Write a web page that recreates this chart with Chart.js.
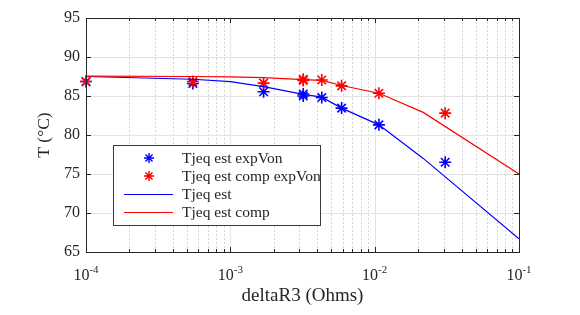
<!DOCTYPE html>
<html>
<head>
<meta charset="utf-8">
<script src="https://cdn.jsdelivr.net/npm/chart.js"></script>
<style>
  body { margin: 0; background: #fff; }
  canvas { display: block; }
</style>
</head>
<body>
<canvas id="chart" width="580" height="315"></canvas>
<script>
// measured points (deltaR3 in Ohms, T in degC)
const expX = [1e-4, 5.5e-4, 1.7e-3, 3.2e-3, 3.2e-3, 4.3e-3, 5.9e-3, 1.07e-2, 3.08e-2];
const estExpVon = [86.85, 86.6, 85.55, 85.25, 85.0, 84.8, 83.45, 81.3, 76.5];
const compExpVon = [86.85, 86.85, 86.65, 87.15, 87.0, 87.05, 86.3, 85.35, 82.8];

// estimated curves
const lineX = [1e-4, 5.5e-4, 1e-3, 1.7e-3, 3.2e-3, 4.3e-3, 5.9e-3, 1.07e-2, 2.17e-2, 1e-1];
const estLine = [87.5, 87.15, 86.85, 86.2, 85.2, 84.85, 83.45, 81.3, 77.0, 66.7];
const compLine = [87.55, 87.5, 87.45, 87.35, 87.1, 87.0, 86.35, 85.35, 82.9, 75.0];

const xDecades = [1e-4, 1e-3, 1e-2, 1e-1];
const xDecadeExp = ['-4', '-3', '-2', '-1'];
const yTicks = [65, 70, 75, 80, 85, 90, 95];

const BLUE = '#0000ff';
const RED = '#ff0000';
const AXIS = '#262626';
const SERIF = '"Liberation Serif", "Times New Roman", serif';

const toPoints = (xs, ys) => xs.map((x, i) => ({ x: x, y: ys[i] }));

// minor positions 2..9 x 10^n between the decades
const minorX = [];
for (let d = 0; d < xDecades.length - 1; d++) {
  for (let k = 2; k <= 9; k++) minorX.push(k * xDecades[d]);
}

const legendItems = [
  { label: 'Tjeq est expVon', color: BLUE, star: true },
  { label: 'Tjeq est comp expVon', color: RED, star: true },
  { label: 'Tjeq est', color: BLUE, star: false },
  { label: 'Tjeq est comp', color: RED, star: false }
];

const framePlugin = {
  id: 'frame',
  beforeDatasetsDraw(chart) {
    const { ctx, chartArea: a, scales } = chart;
    const xs = scales.x, ys = scales.y;
    ctx.save();
    ctx.lineWidth = 1;
    // minor dotted x grid
    ctx.strokeStyle = '#d6d6d6';
    ctx.setLineDash([2, 2]);
    minorX.forEach(v => {
      const px = Math.round(xs.getPixelForValue(v)) + 0.5;
      ctx.beginPath(); ctx.moveTo(px, a.top); ctx.lineTo(px, a.bottom); ctx.stroke();
    });
    // major solid grid
    ctx.setLineDash([]);
    ctx.strokeStyle = '#e3e3e3';
    xDecades.forEach(v => {
      const px = Math.round(xs.getPixelForValue(v)) + 0.5;
      ctx.beginPath(); ctx.moveTo(px, a.top); ctx.lineTo(px, a.bottom); ctx.stroke();
    });
    yTicks.forEach(v => {
      const py = Math.round(ys.getPixelForValue(v)) + 0.5;
      ctx.beginPath(); ctx.moveTo(a.left, py); ctx.lineTo(a.right, py); ctx.stroke();
    });
    ctx.restore();
  },
  afterDatasetsDraw(chart) {
    const { ctx, chartArea: a, scales } = chart;
    const xs = scales.x, ys = scales.y;
    ctx.save();
    ctx.strokeStyle = AXIS;
    ctx.lineWidth = 1;
    // inward ticks on all four sides
    const tick = (x1, y1, x2, y2) => { ctx.beginPath(); ctx.moveTo(x1, y1); ctx.lineTo(x2, y2); ctx.stroke(); };
    minorX.forEach(v => {
      const px = Math.round(xs.getPixelForValue(v)) + 0.5;
      tick(px, a.bottom, px, a.bottom - 3);
      tick(px, a.top, px, a.top + 3);
    });
    xDecades.forEach(v => {
      const px = Math.round(xs.getPixelForValue(v)) + 0.5;
      tick(px, a.bottom, px, a.bottom - 5);
      tick(px, a.top, px, a.top + 5);
    });
    yTicks.forEach(v => {
      const py = Math.round(ys.getPixelForValue(v)) + 0.5;
      tick(a.left, py, a.left + 5, py);
      tick(a.right, py, a.right - 5, py);
    });
    // box
    ctx.strokeRect(Math.round(a.left) + 0.5, Math.round(a.top) + 0.5,
      Math.round(a.right - a.left), Math.round(a.bottom - a.top));

    // x tick labels 10^n
    ctx.fillStyle = AXIS;
    ctx.textBaseline = 'alphabetic';
    ctx.textAlign = 'left';
    xDecades.forEach((v, i) => {
      const px = xs.getPixelForValue(v);
      ctx.font = '16px ' + SERIF;
      const w1 = ctx.measureText('10').width;
      ctx.font = '11px ' + SERIF;
      const w2 = ctx.measureText(xDecadeExp[i]).width;
      const x0 = px - (w1 + w2) / 2;
      ctx.font = '16px ' + SERIF;
      ctx.fillText('10', x0, a.bottom + 28);
      ctx.font = '11px ' + SERIF;
      ctx.fillText(xDecadeExp[i], x0 + w1, a.bottom + 21);
    });

    // legend
    const lx = 113, ly = 145, lw = 207, lh = 80;
    ctx.fillStyle = '#fff';
    ctx.fillRect(lx, ly, lw, lh);
    ctx.strokeStyle = '#3a3a3a';
    ctx.strokeRect(lx + 0.5, ly + 0.5, lw, lh);
    ctx.font = '15.5px ' + SERIF;
    ctx.textBaseline = 'middle';
    legendItems.forEach((item, i) => {
      const cy = 158 + i * 18;
      ctx.strokeStyle = item.color;
      ctx.fillStyle = item.color;
      if (item.star) {
        ctx.lineWidth = 1.4;
        Chart.helpers.drawPoint(ctx, {
          pointStyle: 'star', radius: 5, rotation: 0, borderWidth: 1.4
        }, 149, cy);
      } else {
        ctx.lineWidth = 1.2;
        ctx.beginPath(); ctx.moveTo(124, cy + 0.5); ctx.lineTo(173, cy + 0.5); ctx.stroke();
      }
      ctx.fillStyle = AXIS;
      ctx.fillText(item.label, 182, cy + 1);
    });
    ctx.restore();
  }
};

const starSet = (label, ys, color, order) => ({
  label: label,
  data: toPoints(expX, ys),
  showLine: false,
  pointStyle: 'star',
  pointRadius: 6,
  pointBorderWidth: 1.6,
  borderColor: color,
  backgroundColor: color,
  clip: false,
  order: order
});

const lineSet = (label, ys, color, order) => ({
  label: label,
  data: toPoints(lineX, ys),
  showLine: true,
  pointRadius: 0,
  borderWidth: 1.2,
  borderColor: color,
  backgroundColor: color,
  tension: 0,
  order: order
});

new Chart(document.getElementById('chart'), {
  type: 'scatter',
  data: {
    datasets: [
      starSet('Tjeq est expVon', estExpVon, BLUE, 3),
      starSet('Tjeq est comp expVon', compExpVon, RED, 2),
      lineSet('Tjeq est', estLine, BLUE, 1),
      lineSet('Tjeq est comp', compLine, RED, 0)
    ]
  },
  options: {
    responsive: false,
    animation: false,
    layout: { padding: { top: 18, right: 61, left: 0, bottom: 0 } },
    plugins: {
      legend: { display: false },
      tooltip: { enabled: false }
    },
    scales: {
      x: {
        type: 'logarithmic',
        min: 1e-4,
        max: 1e-1,
        ticks: { display: false },
        grid: { display: false, drawTicks: false },
        border: { display: false },
        title: {
          display: true,
          text: 'deltaR3 (Ohms)',
          color: AXIS,
          font: { family: SERIF, size: 19 },
          padding: { top: 0, bottom: 8 }
        },
        afterFit: (scale) => { scale.height = 63; }
      },
      y: {
        min: 65,
        max: 95,
        afterBuildTicks: (scale) => { scale.ticks = yTicks.map(v => ({ value: v })); },
        ticks: {
          color: AXIS,
          padding: 6,
          font: { family: SERIF, size: 16 }
        },
        grid: { display: false, drawTicks: false },
        border: { display: false },
        title: {
          display: true,
          text: 'T (°C)',
          color: AXIS,
          font: { family: SERIF, size: 17.5 },
          padding: { top: 34, bottom: 0 }
        },
        afterFit: (scale) => { scale.width = 86; }
      }
    }
  },
  plugins: [framePlugin]
});
</script>
</body>
</html>
